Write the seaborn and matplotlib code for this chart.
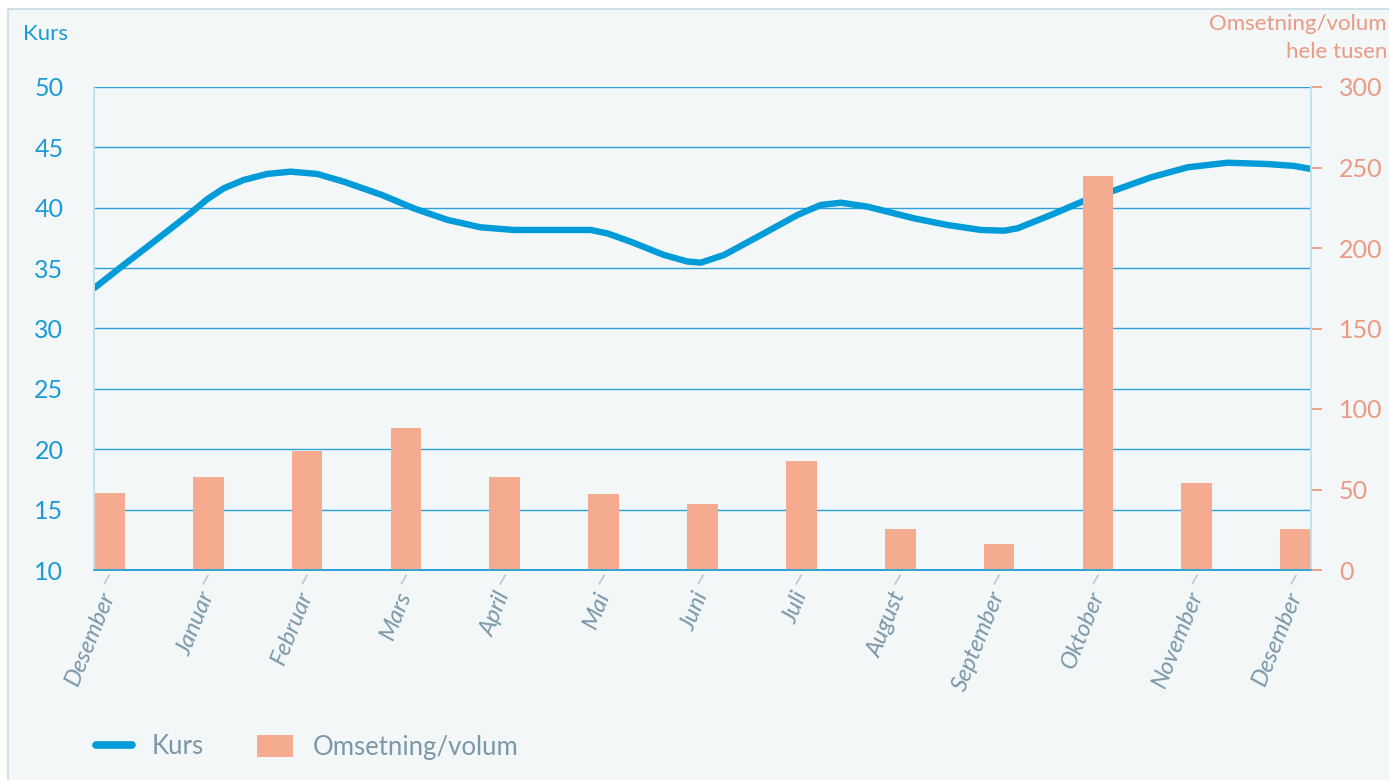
import numpy as np
import pandas as pd
import matplotlib
matplotlib.use("Agg")
import matplotlib.pyplot as plt
import seaborn as sns
from matplotlib.lines import Line2D
from matplotlib.patches import Patch, Rectangle

# ----------------------------------------------------------
# Data
# ----------------------------------------------------------
months = ["Desember", "Januar", "Februar", "Mars", "April", "Mai", "Juni",
          "Juli", "August", "September", "Oktober", "November", "Desember"]

# Omsetning/volum, hele tusen (right axis)
volum = [48, 58, 74, 88, 58, 47, 41, 68, 25.5, 16, 245, 54, 25.5]

# Kurs (left axis), sampled along the month axis
kurs_pos = [-0.152, 0.145, 0.483, 0.820, 0.989, 1.157, 1.359, 1.596, 1.832,
            2.102, 2.371, 2.760, 3.080, 3.418, 3.755, 4.092, 4.430, 4.868,
            5.037, 5.273, 5.610, 5.847, 5.982, 6.218, 6.622, 6.960, 7.196,
            7.399, 7.669, 8.141, 8.479, 8.816, 9.052, 9.187, 9.524, 9.861,
            10.199, 10.536, 10.908, 11.313, 11.717, 11.987, 12.156]
kurs_val = [33.35, 35.26, 37.39, 39.54, 40.70, 41.61, 42.30, 42.80, 42.99,
            42.80, 42.16, 41.05, 39.95, 39.00, 38.38, 38.16, 38.16, 38.16,
            37.88, 37.19, 36.09, 35.55, 35.45, 36.09, 37.88, 39.40, 40.23,
            40.42, 40.09, 39.12, 38.57, 38.16, 38.10, 38.30, 39.40, 40.58,
            41.53, 42.52, 43.35, 43.73, 43.62, 43.46, 43.21]

# ----------------------------------------------------------
# Colours
# ----------------------------------------------------------
BG = "#f3f7f8"
BORDER = "#c9dbe3"
BLUE = "#009bd9"
BLUE_TXT = "#1a9ad6"
GRID = "#2aa2da"
SPINE = "#c3e2f1"
SALMON = "#eb9a83"
BAR = "#f4ab90"
XLAB = "#7b97a8"
TICKG = "#b9c9d2"

sns.set_theme(style="white")
plt.rcParams["font.family"] = ["Lato", "DejaVu Sans"]

W, H = 1389, 780
fig = plt.figure(figsize=(W / 100, H / 100), dpi=100)
fig.patch.set_facecolor("white")
fig.add_artist(Rectangle((8 / W, -0.01), 1.0, 1 - 9 / H + 0.01,
                         transform=fig.transFigure, facecolor=BG,
                         edgecolor=BORDER, lw=1.2, zorder=-10))

ax = fig.add_axes([94 / W, 1 - 570 / H, (1311 - 94) / W, (570 - 87) / H])
ax.set_facecolor("none")
ax2 = ax.twinx()

# bars on the right axis (drawn above the line)
bar_df = pd.DataFrame({"pos": np.arange(len(months)), "volum": volum})
sns.barplot(data=bar_df, x="pos", y="volum", native_scale=True, width=0.31,
            color=BAR, saturation=1, linewidth=0, ax=ax2)

# kurs line on the left axis
line_df = pd.DataFrame({"pos": kurs_pos, "kurs": kurs_val})
sns.lineplot(data=line_df, x="pos", y="kurs", sort=False, color=BLUE,
             linewidth=4.6, solid_capstyle="round", solid_joinstyle="round",
             ax=ax)

# axes styling
ax.set_ylim(10, 50)
ax.set_yticks(range(10, 51, 5))
ax.yaxis.grid(True, color=GRID, linewidth=1)
ax.set_axisbelow(True)
ax2.set_ylim(0, 300)
ax2.set_yticks(range(0, 301, 50))
ax.set_xlim(-0.155, 12.155)

ax.set_xticks(range(len(months)))
ax.set_xticklabels(months, rotation=68, ha="right", va="center",
                   rotation_mode="anchor", style="italic", color=XLAB,
                   fontsize=17)
ax.tick_params(axis="x", bottom=True, length=20, width=1.2, color=TICKG,
               pad=-4)
ax.tick_params(axis="y", left=False, length=0, pad=22,
               labelcolor=BLUE_TXT, labelsize=18)
ax2.tick_params(axis="y", right=True, length=8, width=1.3, color=SALMON,
                pad=12, labelcolor=SALMON, labelsize=18)
ax.set_xlabel("")
ax.set_ylabel("")
ax2.set_xlabel("")
ax2.set_ylabel("")

# slanted x tick marks, parallel to the labels
for t in ax.xaxis.get_major_ticks():
    t.tick1line.set_marker([(0, -0.3), (-0.4, -1.0)])

for a in (ax, ax2):
    a.spines["top"].set_visible(False)
    a.spines["left"].set_color(SPINE)
    a.spines["right"].set_color(SPINE)
    a.spines["bottom"].set_color(GRID)

# axis titles
fig.text(23 / W, 1 - 34 / H, "Kurs", color=BLUE_TXT, fontsize=16,
         ha="left", va="center")
fig.text(1387 / W, 1 - 24 / H, "Omsetning/volum", color=SALMON, fontsize=16,
         ha="right", va="center")
fig.text(1387 / W, 1 - 52 / H, "hele tusen", color=SALMON, fontsize=16,
         ha="right", va="center")

# legend
handles = [Line2D([], [], color=BLUE, lw=5.5, solid_capstyle="round"),
           Patch(facecolor=BAR, edgecolor="none")]
fig.legend(handles, ["Kurs", "Omsetning/volum"], loc="center left",
           bbox_to_anchor=(73 / W, 1 - 747 / H), ncol=2, frameon=False,
           fontsize=18.5, labelcolor=XLAB, handlelength=1.4, handleheight=0.95,
           handletextpad=0.75, columnspacing=2.1)

fig.savefig("out.png", dpi=100, facecolor=fig.get_facecolor())
